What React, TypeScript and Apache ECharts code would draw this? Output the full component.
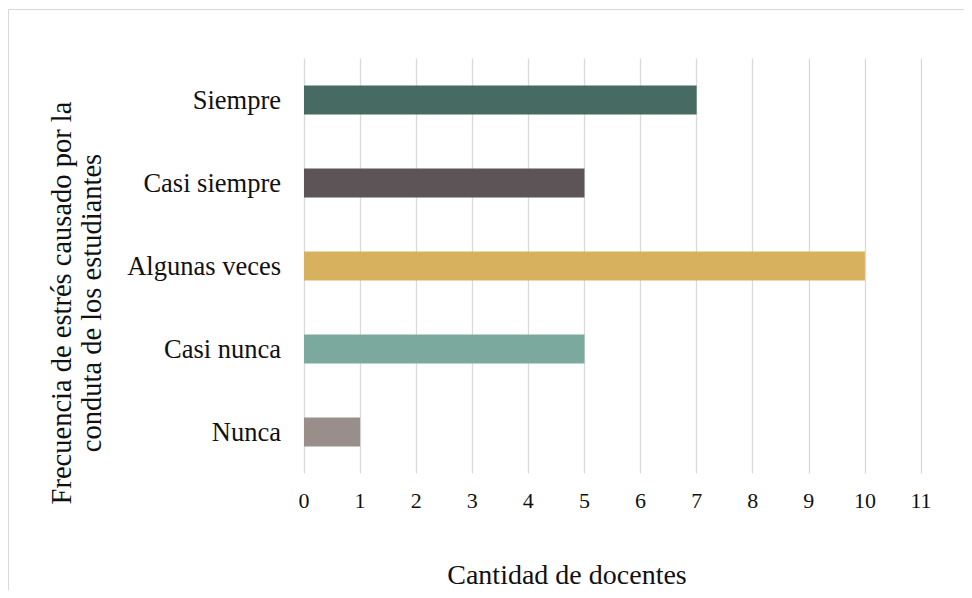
import React, { useEffect, useRef } from "react";
import * as echarts from "echarts";

const categories = ["Nunca", "Casi nunca", "Algunas veces", "Casi siempre", "Siempre"];
const values = [1, 5, 10, 5, 7];
const barColors = ["#9A8E8B", "#7BA99D", "#D8B15E", "#5C5456", "#476A62"];
const xTicks = { min: 0, max: 11, interval: 1 };
const xTitle = "Cantidad de docentes";
const yTitle = "Frecuencia de estrés causado por la\nconduta de los estudiantes";

const FONT = "Liberation Serif";

export default function App() {
  const ref = useRef<HTMLDivElement>(null);
  useEffect(() => {
    if (!ref.current) return;
    const chart = echarts.init(ref.current, undefined, { renderer: "svg" });
    chart.setOption({
      animation: false,
      backgroundColor: "#ffffff",
      textStyle: { fontFamily: FONT },
      grid: { left: 296, top: 50.5, width: 617, height: 415, containLabel: false },
      xAxis: {
        type: "value",
        min: xTicks.min,
        max: xTicks.max,
        interval: xTicks.interval,
        axisLine: { show: false },
        axisTick: { show: false },
        splitLine: { show: true, lineStyle: { color: "#D9D9D9", width: 1.3 } },
        axisLabel: { color: "#111111", fontFamily: FONT, fontSize: 22, margin: 16 },
      },
      yAxis: {
        type: "category",
        data: categories,
        axisLine: { show: false },
        axisTick: { show: false },
        splitLine: { show: false },
        axisLabel: { color: "#111111", fontFamily: FONT, fontSize: 26.5, margin: 23 },
      },
      series: [
        {
          type: "bar",
          barWidth: 29,
          data: values.map((v, i) => ({ value: v, itemStyle: { color: barColors[i] } })),
        },
      ],
      graphic: [
        {
          type: "line",
          shape: { x1: 0.5, y1: 1.5, x2: 0.5, y2: 600 },
          style: { stroke: "#D9D9D9", lineWidth: 1 },
        },
        {
          type: "line",
          shape: { x1: 0.5, y1: 1.5, x2: 1000, y2: 1.5 },
          style: { stroke: "#D9D9D9", lineWidth: 1 },
        },
        {
          type: "text",
          x: 559,
          y: 566,
          style: {
            text: xTitle,
            fontFamily: FONT,
            fontSize: 28,
            fill: "#111111",
            align: "center",
            verticalAlign: "middle",
          },
        },
        {
          type: "text",
          x: 68,
          y: 295,
          rotation: Math.PI / 2,
          style: {
            text: yTitle,
            fontFamily: FONT,
            fontSize: 28.5,
            lineHeight: 30,
            fill: "#111111",
            align: "center",
            verticalAlign: "middle",
          },
        },
      ],
    });
    return () => chart.dispose();
  }, []);
  return <div ref={ref} style={{ width: 956, height: 582 }} />;
}
